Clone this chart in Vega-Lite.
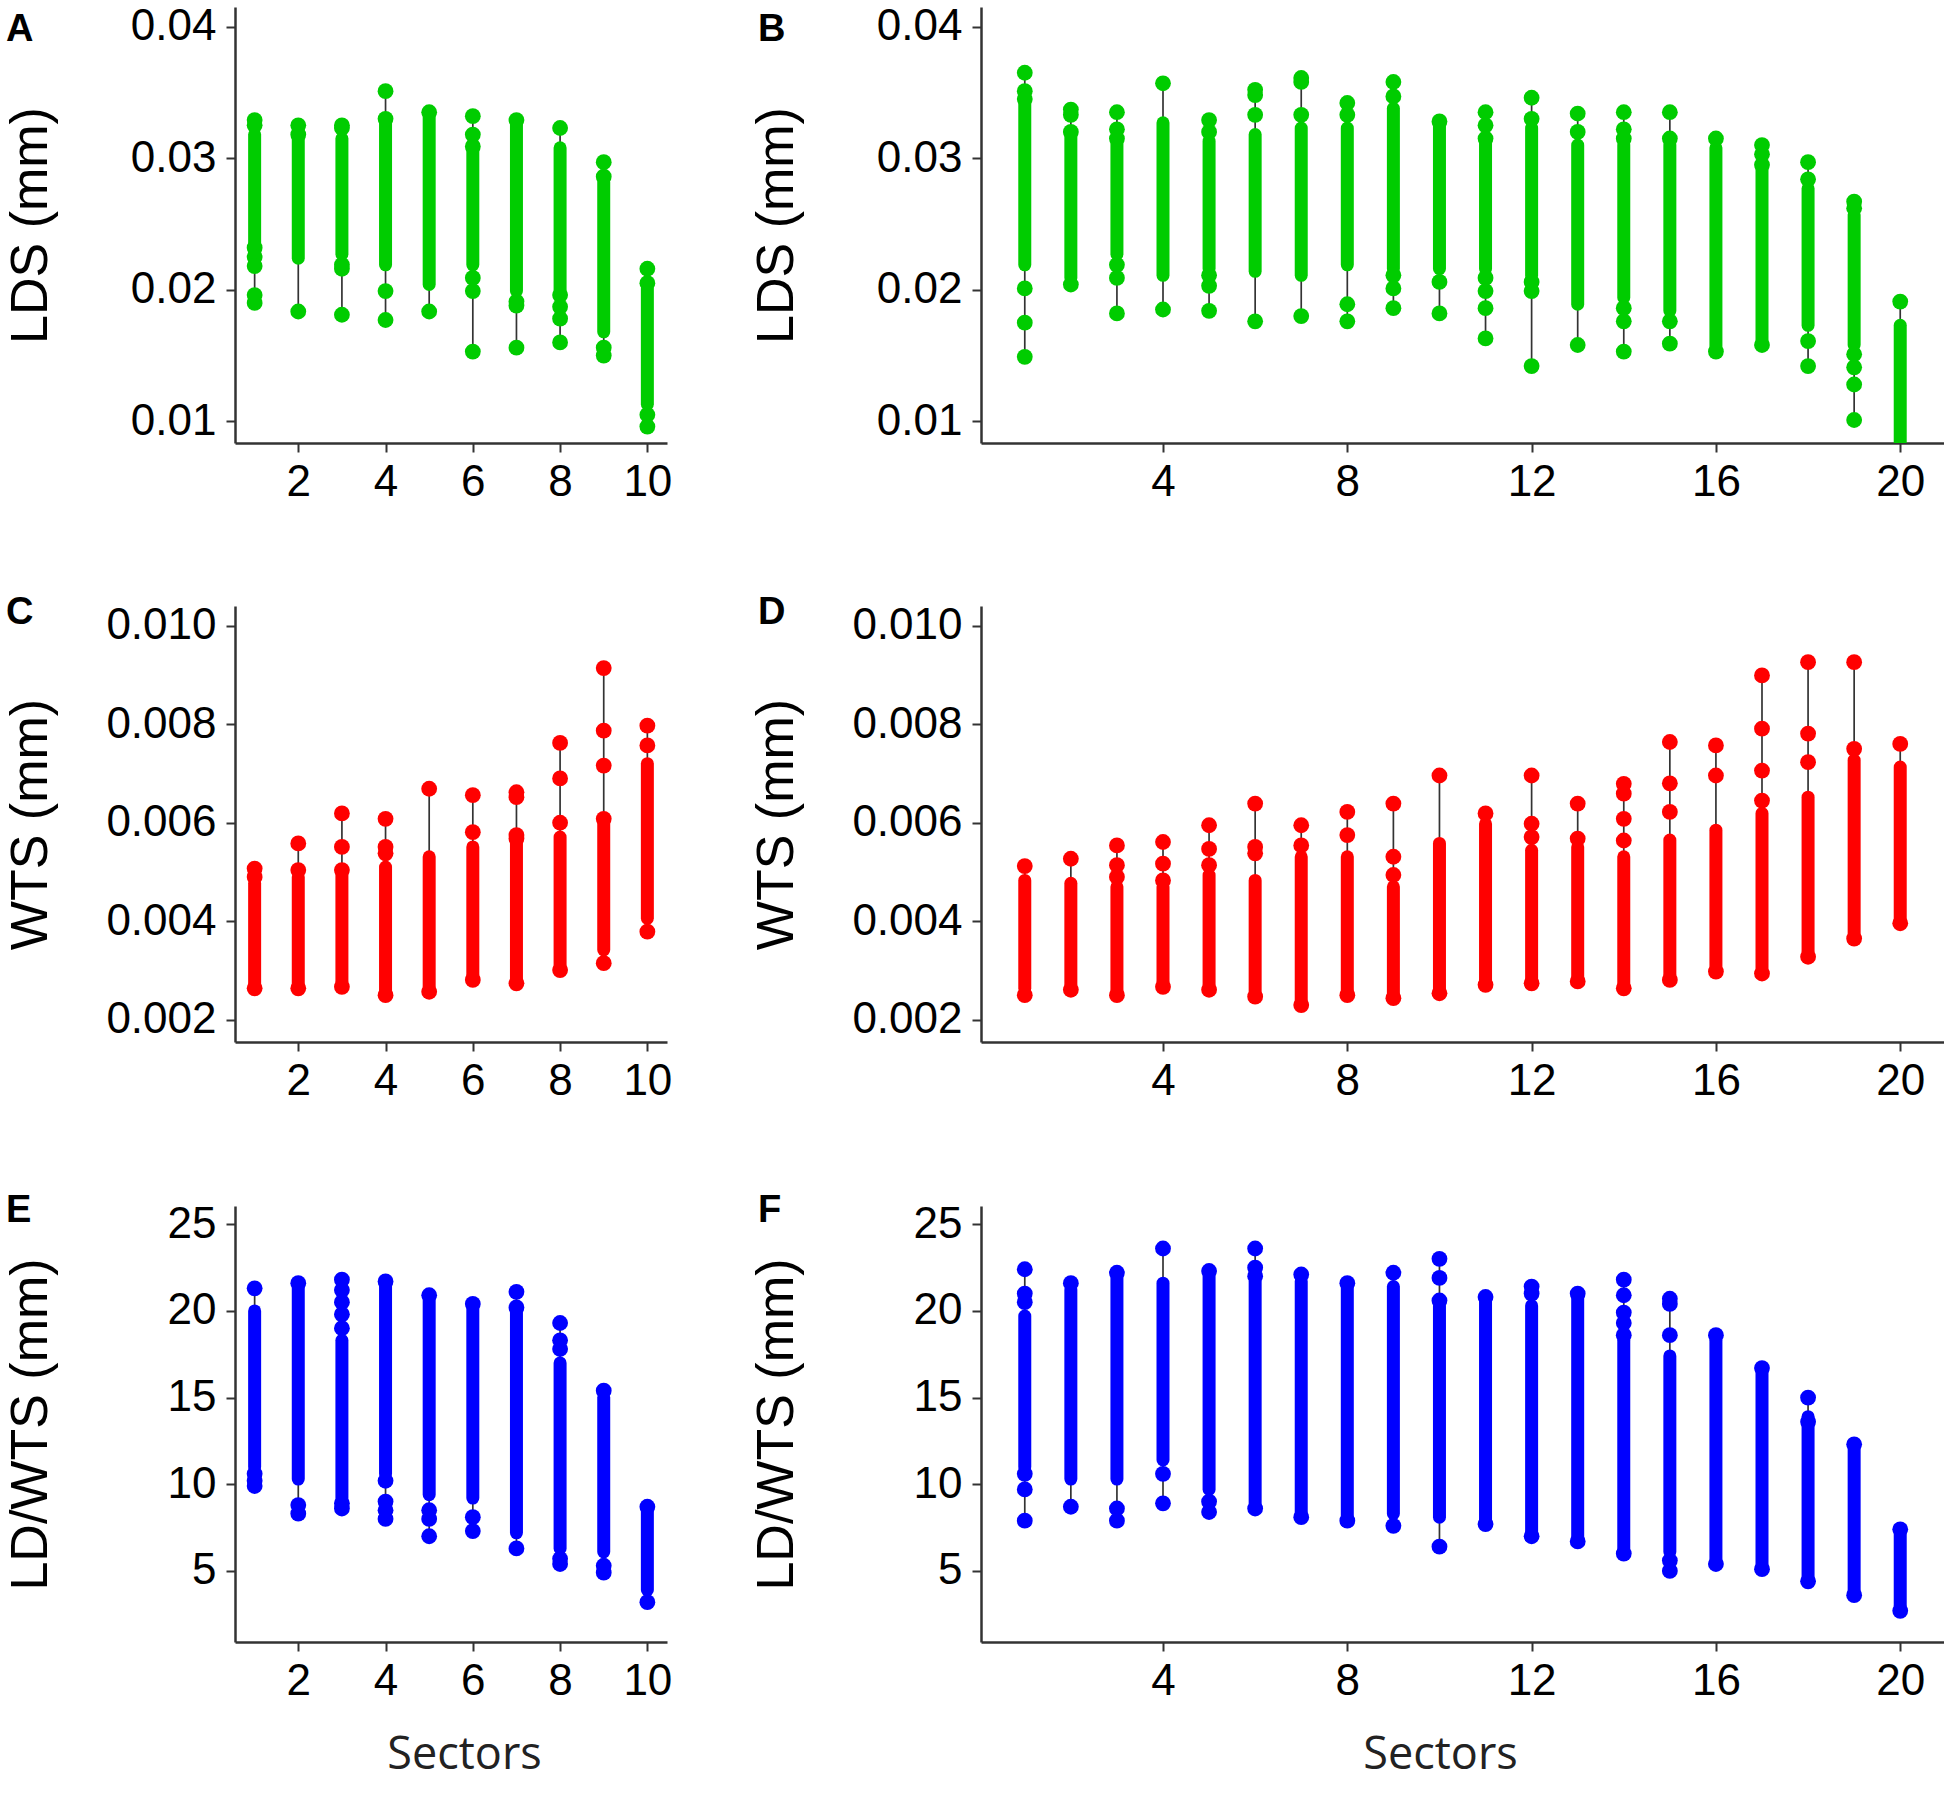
{
  "$schema": "https://vega.github.io/schema/vega-lite/v6.json",
  "background": "white",
  "padding": {"left": 4, "top": 4, "right": 0, "bottom": 0},
  "datasets": {
    "ranges": [
      {"p":"A","s":1,"lo":0.0190,"hi":0.0329,"b0":0.0222,"b1":0.0318},
      {"p":"A","s":2,"lo":0.01835,"hi":0.0325,"b0":0.0224,"b1":0.0323},
      {"p":"A","s":3,"lo":0.0181,"hi":0.0325,"b0":0.0227,"b1":0.0315},
      {"p":"A","s":4,"lo":0.0177,"hi":0.0351,"b0":0.0219,"b1":0.0330},
      {"p":"A","s":5,"lo":0.01835,"hi":0.0335,"b0":0.0204,"b1":0.0333},
      {"p":"A","s":6,"lo":0.0153,"hi":0.0332,"b0":0.0219,"b1":0.0308},
      {"p":"A","s":7,"lo":0.0156,"hi":0.0329,"b0":0.0199,"b1":0.0328},
      {"p":"A","s":8,"lo":0.0160,"hi":0.0323,"b0":0.0199,"b1":0.0308},
      {"p":"A","s":9,"lo":0.0150,"hi":0.0297,"b0":0.0168,"b1":0.0282},
      {"p":"A","s":10,"lo":0.0096,"hi":0.0216,"b0":0.0113,"b1":0.0201},
      {"p":"B","s":1,"lo":0.0149,"hi":0.0365,"b0":0.0219,"b1":0.0343},
      {"p":"B","s":2,"lo":0.0204,"hi":0.0337,"b0":0.0209,"b1":0.0318},
      {"p":"B","s":3,"lo":0.0182,"hi":0.0335,"b0":0.0227,"b1":0.0313},
      {"p":"B","s":4,"lo":0.0185,"hi":0.0357,"b0":0.0211,"b1":0.0327},
      {"p":"B","s":5,"lo":0.0184,"hi":0.0329,"b0":0.0216,"b1":0.0313},
      {"p":"B","s":6,"lo":0.0176,"hi":0.0352,"b0":0.0214,"b1":0.0318},
      {"p":"B","s":7,"lo":0.0180,"hi":0.0361,"b0":0.0211,"b1":0.0323},
      {"p":"B","s":8,"lo":0.0176,"hi":0.0342,"b0":0.0219,"b1":0.0323},
      {"p":"B","s":9,"lo":0.0186,"hi":0.0358,"b0":0.0216,"b1":0.0338},
      {"p":"B","s":10,"lo":0.0182,"hi":0.0328,"b0":0.0216,"b1":0.0328},
      {"p":"B","s":11,"lo":0.0163,"hi":0.0335,"b0":0.0216,"b1":0.0313},
      {"p":"B","s":12,"lo":0.0142,"hi":0.0346,"b0":0.0211,"b1":0.0323},
      {"p":"B","s":13,"lo":0.0158,"hi":0.0334,"b0":0.0189,"b1":0.0310},
      {"p":"B","s":14,"lo":0.0153,"hi":0.0335,"b0":0.0194,"b1":0.0310},
      {"p":"B","s":15,"lo":0.0159,"hi":0.0335,"b0":0.0184,"b1":0.0310},
      {"p":"B","s":16,"lo":0.0153,"hi":0.0315,"b0":0.0153,"b1":0.0308},
      {"p":"B","s":17,"lo":0.0158,"hi":0.0310,"b0":0.0158,"b1":0.0292},
      {"p":"B","s":18,"lo":0.0142,"hi":0.0297,"b0":0.0173,"b1":0.0277},
      {"p":"B","s":19,"lo":0.0101,"hi":0.0267,"b0":0.0158,"b1":0.0257},
      {"p":"B","s":20,"lo":0.0080,"hi":0.0191,"b0":0.0080,"b1":0.0173},
      {"p":"C","s":1,"lo":0.00264,"hi":0.00507,"b0":0.00264,"b1":0.00477},
      {"p":"C","s":2,"lo":0.00264,"hi":0.00558,"b0":0.00264,"b1":0.00490},
      {"p":"C","s":3,"lo":0.00267,"hi":0.00619,"b0":0.00267,"b1":0.00497},
      {"p":"C","s":4,"lo":0.00250,"hi":0.00608,"b0":0.00250,"b1":0.00510},
      {"p":"C","s":5,"lo":0.00257,"hi":0.00669,"b0":0.00257,"b1":0.00531},
      {"p":"C","s":6,"lo":0.00281,"hi":0.00656,"b0":0.00281,"b1":0.00551},
      {"p":"C","s":7,"lo":0.00274,"hi":0.00662,"b0":0.00274,"b1":0.00558},
      {"p":"C","s":8,"lo":0.00301,"hi":0.00762,"b0":0.00301,"b1":0.00571},
      {"p":"C","s":9,"lo":0.00315,"hi":0.00914,"b0":0.00342,"b1":0.00605},
      {"p":"C","s":10,"lo":0.00379,"hi":0.00797,"b0":0.00406,"b1":0.00720},
      {"p":"D","s":1,"lo":0.00250,"hi":0.00512,"b0":0.00264,"b1":0.00483},
      {"p":"D","s":2,"lo":0.00261,"hi":0.00527,"b0":0.00261,"b1":0.00477},
      {"p":"D","s":3,"lo":0.00250,"hi":0.00554,"b0":0.00250,"b1":0.00470},
      {"p":"D","s":4,"lo":0.00267,"hi":0.00561,"b0":0.00267,"b1":0.00470},
      {"p":"D","s":5,"lo":0.00261,"hi":0.00595,"b0":0.00261,"b1":0.00494},
      {"p":"D","s":6,"lo":0.00247,"hi":0.00639,"b0":0.00247,"b1":0.00483},
      {"p":"D","s":7,"lo":0.00230,"hi":0.00595,"b0":0.00230,"b1":0.00531},
      {"p":"D","s":8,"lo":0.00250,"hi":0.00622,"b0":0.00250,"b1":0.00531},
      {"p":"D","s":9,"lo":0.00244,"hi":0.00639,"b0":0.00244,"b1":0.00470},
      {"p":"D","s":10,"lo":0.00254,"hi":0.00696,"b0":0.00254,"b1":0.00558},
      {"p":"D","s":11,"lo":0.00271,"hi":0.00619,"b0":0.00271,"b1":0.00598},
      {"p":"D","s":12,"lo":0.00274,"hi":0.00696,"b0":0.00274,"b1":0.00544},
      {"p":"D","s":13,"lo":0.00278,"hi":0.00639,"b0":0.00278,"b1":0.00551},
      {"p":"D","s":14,"lo":0.00264,"hi":0.00679,"b0":0.00264,"b1":0.00531},
      {"p":"D","s":15,"lo":0.00281,"hi":0.00764,"b0":0.00281,"b1":0.00565},
      {"p":"D","s":16,"lo":0.00298,"hi":0.00757,"b0":0.00298,"b1":0.00585},
      {"p":"D","s":17,"lo":0.00294,"hi":0.00899,"b0":0.00294,"b1":0.00619},
      {"p":"D","s":18,"lo":0.00328,"hi":0.00926,"b0":0.00328,"b1":0.00652},
      {"p":"D","s":19,"lo":0.00365,"hi":0.00926,"b0":0.00365,"b1":0.00727},
      {"p":"D","s":20,"lo":0.00396,"hi":0.00760,"b0":0.00396,"b1":0.00713},
      {"p":"E","s":1,"lo":9.9,"hi":21.3,"b0":11.0,"b1":20.0},
      {"p":"E","s":2,"lo":8.3,"hi":21.6,"b0":10.3,"b1":21.6},
      {"p":"E","s":3,"lo":8.6,"hi":21.8,"b0":9.2,"b1":18.3},
      {"p":"E","s":4,"lo":8.0,"hi":21.7,"b0":10.6,"b1":21.7},
      {"p":"E","s":5,"lo":7.0,"hi":20.9,"b0":9.4,"b1":20.9},
      {"p":"E","s":6,"lo":7.3,"hi":20.4,"b0":9.2,"b1":20.3},
      {"p":"E","s":7,"lo":6.3,"hi":21.1,"b0":7.2,"b1":19.9},
      {"p":"E","s":8,"lo":5.4,"hi":19.3,"b0":6.3,"b1":17.0},
      {"p":"E","s":9,"lo":4.9,"hi":15.4,"b0":6.1,"b1":15.0},
      {"p":"E","s":10,"lo":3.2,"hi":8.7,"b0":3.9,"b1":8.7},
      {"p":"F","s":1,"lo":7.9,"hi":22.4,"b0":11.0,"b1":19.7},
      {"p":"F","s":2,"lo":8.7,"hi":21.6,"b0":10.3,"b1":21.2},
      {"p":"F","s":3,"lo":7.9,"hi":22.2,"b0":10.3,"b1":22.2},
      {"p":"F","s":4,"lo":8.9,"hi":23.6,"b0":11.4,"b1":21.6},
      {"p":"F","s":5,"lo":8.4,"hi":22.3,"b0":9.7,"b1":22.2},
      {"p":"F","s":6,"lo":8.6,"hi":23.6,"b0":8.6,"b1":21.7},
      {"p":"F","s":7,"lo":8.1,"hi":22.1,"b0":8.1,"b1":21.7},
      {"p":"F","s":8,"lo":7.9,"hi":21.6,"b0":7.9,"b1":21.4},
      {"p":"F","s":9,"lo":7.6,"hi":22.2,"b0":8.3,"b1":21.4},
      {"p":"F","s":10,"lo":6.4,"hi":23.0,"b0":8.1,"b1":20.3},
      {"p":"F","s":11,"lo":7.7,"hi":20.8,"b0":7.7,"b1":20.8},
      {"p":"F","s":12,"lo":7.0,"hi":21.4,"b0":7.0,"b1":20.3},
      {"p":"F","s":13,"lo":6.7,"hi":21.0,"b0":6.7,"b1":21.0},
      {"p":"F","s":14,"lo":6.0,"hi":21.8,"b0":6.0,"b1":18.3},
      {"p":"F","s":15,"lo":5.0,"hi":20.7,"b0":6.1,"b1":17.4},
      {"p":"F","s":16,"lo":5.4,"hi":18.6,"b0":5.4,"b1":18.3},
      {"p":"F","s":17,"lo":5.1,"hi":16.7,"b0":5.1,"b1":16.6},
      {"p":"F","s":18,"lo":4.4,"hi":15.0,"b0":4.4,"b1":13.9},
      {"p":"F","s":19,"lo":3.6,"hi":12.3,"b0":3.6,"b1":12.3},
      {"p":"F","s":20,"lo":2.7,"hi":7.4,"b0":2.7,"b1":7.4}
    ],
    "dots": [
      {"p":"A","s":1,"v":0.0329},{"p":"A","s":1,"v":0.0325},{"p":"A","s":1,"v":0.0232},{"p":"A","s":1,"v":0.0225},{"p":"A","s":1,"v":0.0218},{"p":"A","s":1,"v":0.0196},{"p":"A","s":1,"v":0.0190},
      {"p":"A","s":2,"v":0.0325},{"p":"A","s":2,"v":0.0318},{"p":"A","s":2,"v":0.01835},
      {"p":"A","s":3,"v":0.0325},{"p":"A","s":3,"v":0.0323},{"p":"A","s":3,"v":0.0219},{"p":"A","s":3,"v":0.0216},{"p":"A","s":3,"v":0.0181},
      {"p":"A","s":4,"v":0.0351},{"p":"A","s":4,"v":0.0330},{"p":"A","s":4,"v":0.0199},{"p":"A","s":4,"v":0.0177},
      {"p":"A","s":5,"v":0.0335},{"p":"A","s":5,"v":0.01835},
      {"p":"A","s":6,"v":0.0332},{"p":"A","s":6,"v":0.0318},{"p":"A","s":6,"v":0.0309},{"p":"A","s":6,"v":0.0209},{"p":"A","s":6,"v":0.0199},{"p":"A","s":6,"v":0.0153},
      {"p":"A","s":7,"v":0.0329},{"p":"A","s":7,"v":0.0191},{"p":"A","s":7,"v":0.0188},{"p":"A","s":7,"v":0.0156},
      {"p":"A","s":8,"v":0.0323},{"p":"A","s":8,"v":0.0196},{"p":"A","s":8,"v":0.0187},{"p":"A","s":8,"v":0.0178},{"p":"A","s":8,"v":0.0160},
      {"p":"A","s":9,"v":0.0297},{"p":"A","s":9,"v":0.0286},{"p":"A","s":9,"v":0.0156},{"p":"A","s":9,"v":0.0150},
      {"p":"A","s":10,"v":0.0216},{"p":"A","s":10,"v":0.0205},{"p":"A","s":10,"v":0.0105},{"p":"A","s":10,"v":0.0096},
      {"p":"B","s":1,"v":0.0365},{"p":"B","s":1,"v":0.0351},{"p":"B","s":1,"v":0.0345},{"p":"B","s":1,"v":0.0201},{"p":"B","s":1,"v":0.0175},{"p":"B","s":1,"v":0.0149},
      {"p":"B","s":2,"v":0.0337},{"p":"B","s":2,"v":0.0333},{"p":"B","s":2,"v":0.0320},{"p":"B","s":2,"v":0.0204},
      {"p":"B","s":3,"v":0.0335},{"p":"B","s":3,"v":0.0322},{"p":"B","s":3,"v":0.0315},{"p":"B","s":3,"v":0.0219},{"p":"B","s":3,"v":0.0209},{"p":"B","s":3,"v":0.0182},
      {"p":"B","s":4,"v":0.0357},{"p":"B","s":4,"v":0.0185},
      {"p":"B","s":5,"v":0.0329},{"p":"B","s":5,"v":0.0320},{"p":"B","s":5,"v":0.0211},{"p":"B","s":5,"v":0.0203},{"p":"B","s":5,"v":0.0184},
      {"p":"B","s":6,"v":0.0352},{"p":"B","s":6,"v":0.0348},{"p":"B","s":6,"v":0.0333},{"p":"B","s":6,"v":0.0176},
      {"p":"B","s":7,"v":0.0361},{"p":"B","s":7,"v":0.0358},{"p":"B","s":7,"v":0.0333},{"p":"B","s":7,"v":0.0180},
      {"p":"B","s":8,"v":0.0342},{"p":"B","s":8,"v":0.0333},{"p":"B","s":8,"v":0.0189},{"p":"B","s":8,"v":0.0176},
      {"p":"B","s":9,"v":0.0358},{"p":"B","s":9,"v":0.0347},{"p":"B","s":9,"v":0.0211},{"p":"B","s":9,"v":0.0201},{"p":"B","s":9,"v":0.0186},
      {"p":"B","s":10,"v":0.0328},{"p":"B","s":10,"v":0.0206},{"p":"B","s":10,"v":0.0182},
      {"p":"B","s":11,"v":0.0335},{"p":"B","s":11,"v":0.0325},{"p":"B","s":11,"v":0.0315},{"p":"B","s":11,"v":0.0209},{"p":"B","s":11,"v":0.0199},{"p":"B","s":11,"v":0.0186},{"p":"B","s":11,"v":0.0163},
      {"p":"B","s":12,"v":0.0346},{"p":"B","s":12,"v":0.0330},{"p":"B","s":12,"v":0.0206},{"p":"B","s":12,"v":0.0199},{"p":"B","s":12,"v":0.0142},
      {"p":"B","s":13,"v":0.0334},{"p":"B","s":13,"v":0.0320},{"p":"B","s":13,"v":0.0158},
      {"p":"B","s":14,"v":0.0335},{"p":"B","s":14,"v":0.0322},{"p":"B","s":14,"v":0.0315},{"p":"B","s":14,"v":0.0186},{"p":"B","s":14,"v":0.0176},{"p":"B","s":14,"v":0.0153},
      {"p":"B","s":15,"v":0.0335},{"p":"B","s":15,"v":0.0315},{"p":"B","s":15,"v":0.0176},{"p":"B","s":15,"v":0.0159},
      {"p":"B","s":16,"v":0.0315},{"p":"B","s":16,"v":0.0153},
      {"p":"B","s":17,"v":0.0310},{"p":"B","s":17,"v":0.0303},{"p":"B","s":17,"v":0.0295},{"p":"B","s":17,"v":0.0158},
      {"p":"B","s":18,"v":0.0297},{"p":"B","s":18,"v":0.0284},{"p":"B","s":18,"v":0.0161},{"p":"B","s":18,"v":0.0142},
      {"p":"B","s":19,"v":0.0267},{"p":"B","s":19,"v":0.0262},{"p":"B","s":19,"v":0.0151},{"p":"B","s":19,"v":0.0141},{"p":"B","s":19,"v":0.0128},{"p":"B","s":19,"v":0.0101},
      {"p":"B","s":20,"v":0.0191},
      {"p":"C","s":1,"v":0.00507},{"p":"C","s":1,"v":0.00490},{"p":"C","s":1,"v":0.00264},
      {"p":"C","s":2,"v":0.00558},{"p":"C","s":2,"v":0.00504},{"p":"C","s":2,"v":0.00264},
      {"p":"C","s":3,"v":0.00619},{"p":"C","s":3,"v":0.00551},{"p":"C","s":3,"v":0.00504},{"p":"C","s":3,"v":0.00267},
      {"p":"C","s":4,"v":0.00608},{"p":"C","s":4,"v":0.00551},{"p":"C","s":4,"v":0.00538},{"p":"C","s":4,"v":0.00250},
      {"p":"C","s":5,"v":0.00669},{"p":"C","s":5,"v":0.00257},
      {"p":"C","s":6,"v":0.00656},{"p":"C","s":6,"v":0.00581},{"p":"C","s":6,"v":0.00281},
      {"p":"C","s":7,"v":0.00662},{"p":"C","s":7,"v":0.00652},{"p":"C","s":7,"v":0.00575},{"p":"C","s":7,"v":0.00568},{"p":"C","s":7,"v":0.00274},
      {"p":"C","s":8,"v":0.00762},{"p":"C","s":8,"v":0.00690},{"p":"C","s":8,"v":0.00600},{"p":"C","s":8,"v":0.00301},
      {"p":"C","s":9,"v":0.00914},{"p":"C","s":9,"v":0.00787},{"p":"C","s":9,"v":0.00716},{"p":"C","s":9,"v":0.00608},{"p":"C","s":9,"v":0.00315},
      {"p":"C","s":10,"v":0.00797},{"p":"C","s":10,"v":0.00757},{"p":"C","s":10,"v":0.00379},
      {"p":"D","s":1,"v":0.00512},{"p":"D","s":1,"v":0.00250},
      {"p":"D","s":2,"v":0.00527},{"p":"D","s":2,"v":0.00261},
      {"p":"D","s":3,"v":0.00554},{"p":"D","s":3,"v":0.00514},{"p":"D","s":3,"v":0.00490},{"p":"D","s":3,"v":0.00250},
      {"p":"D","s":4,"v":0.00561},{"p":"D","s":4,"v":0.00517},{"p":"D","s":4,"v":0.00483},{"p":"D","s":4,"v":0.00267},
      {"p":"D","s":5,"v":0.00595},{"p":"D","s":5,"v":0.00547},{"p":"D","s":5,"v":0.00514},{"p":"D","s":5,"v":0.00261},
      {"p":"D","s":6,"v":0.00639},{"p":"D","s":6,"v":0.00551},{"p":"D","s":6,"v":0.00538},{"p":"D","s":6,"v":0.00247},
      {"p":"D","s":7,"v":0.00595},{"p":"D","s":7,"v":0.00554},{"p":"D","s":7,"v":0.00230},
      {"p":"D","s":8,"v":0.00622},{"p":"D","s":8,"v":0.00575},{"p":"D","s":8,"v":0.00250},
      {"p":"D","s":9,"v":0.00639},{"p":"D","s":9,"v":0.00531},{"p":"D","s":9,"v":0.00494},{"p":"D","s":9,"v":0.00244},
      {"p":"D","s":10,"v":0.00696},{"p":"D","s":10,"v":0.00254},
      {"p":"D","s":11,"v":0.00619},{"p":"D","s":11,"v":0.00271},
      {"p":"D","s":12,"v":0.00696},{"p":"D","s":12,"v":0.00598},{"p":"D","s":12,"v":0.00571},{"p":"D","s":12,"v":0.00274},
      {"p":"D","s":13,"v":0.00639},{"p":"D","s":13,"v":0.00568},{"p":"D","s":13,"v":0.00278},
      {"p":"D","s":14,"v":0.00679},{"p":"D","s":14,"v":0.00659},{"p":"D","s":14,"v":0.00608},{"p":"D","s":14,"v":0.00564},{"p":"D","s":14,"v":0.00264},
      {"p":"D","s":15,"v":0.00764},{"p":"D","s":15,"v":0.00680},{"p":"D","s":15,"v":0.00622},{"p":"D","s":15,"v":0.00281},
      {"p":"D","s":16,"v":0.00757},{"p":"D","s":16,"v":0.00696},{"p":"D","s":16,"v":0.00298},
      {"p":"D","s":17,"v":0.00899},{"p":"D","s":17,"v":0.00791},{"p":"D","s":17,"v":0.00706},{"p":"D","s":17,"v":0.00645},{"p":"D","s":17,"v":0.00294},
      {"p":"D","s":18,"v":0.00926},{"p":"D","s":18,"v":0.00781},{"p":"D","s":18,"v":0.00723},{"p":"D","s":18,"v":0.00328},
      {"p":"D","s":19,"v":0.00926},{"p":"D","s":19,"v":0.00750},{"p":"D","s":19,"v":0.00365},
      {"p":"D","s":20,"v":0.00760},{"p":"D","s":20,"v":0.00396},
      {"p":"E","s":1,"v":21.3},{"p":"E","s":1,"v":10.6},{"p":"E","s":1,"v":10.2},{"p":"E","s":1,"v":9.9},
      {"p":"E","s":2,"v":21.6},{"p":"E","s":2,"v":8.8},{"p":"E","s":2,"v":8.3},
      {"p":"E","s":3,"v":21.8},{"p":"E","s":3,"v":21.2},{"p":"E","s":3,"v":20.5},{"p":"E","s":3,"v":19.8},{"p":"E","s":3,"v":19.0},{"p":"E","s":3,"v":8.9},{"p":"E","s":3,"v":8.6},
      {"p":"E","s":4,"v":21.7},{"p":"E","s":4,"v":10.2},{"p":"E","s":4,"v":9.0},{"p":"E","s":4,"v":8.5},{"p":"E","s":4,"v":8.0},
      {"p":"E","s":5,"v":20.9},{"p":"E","s":5,"v":8.5},{"p":"E","s":5,"v":8.0},{"p":"E","s":5,"v":7.0},
      {"p":"E","s":6,"v":20.4},{"p":"E","s":6,"v":8.1},{"p":"E","s":6,"v":7.3},
      {"p":"E","s":7,"v":21.1},{"p":"E","s":7,"v":20.2},{"p":"E","s":7,"v":6.3},
      {"p":"E","s":8,"v":19.3},{"p":"E","s":8,"v":18.3},{"p":"E","s":8,"v":17.8},{"p":"E","s":8,"v":5.7},{"p":"E","s":8,"v":5.4},
      {"p":"E","s":9,"v":15.4},{"p":"E","s":9,"v":5.3},{"p":"E","s":9,"v":4.9},
      {"p":"E","s":10,"v":8.7},{"p":"E","s":10,"v":3.2},
      {"p":"F","s":1,"v":22.4},{"p":"F","s":1,"v":21.0},{"p":"F","s":1,"v":20.5},{"p":"F","s":1,"v":10.6},{"p":"F","s":1,"v":9.7},{"p":"F","s":1,"v":7.9},
      {"p":"F","s":2,"v":21.6},{"p":"F","s":2,"v":8.7},
      {"p":"F","s":3,"v":22.2},{"p":"F","s":3,"v":8.6},{"p":"F","s":3,"v":7.9},
      {"p":"F","s":4,"v":23.6},{"p":"F","s":4,"v":10.6},{"p":"F","s":4,"v":8.9},
      {"p":"F","s":5,"v":22.3},{"p":"F","s":5,"v":9.0},{"p":"F","s":5,"v":8.4},
      {"p":"F","s":6,"v":23.6},{"p":"F","s":6,"v":22.5},{"p":"F","s":6,"v":22.0},{"p":"F","s":6,"v":8.6},
      {"p":"F","s":7,"v":22.1},{"p":"F","s":7,"v":8.1},
      {"p":"F","s":8,"v":21.6},{"p":"F","s":8,"v":7.9},
      {"p":"F","s":9,"v":22.2},{"p":"F","s":9,"v":7.6},
      {"p":"F","s":10,"v":23.0},{"p":"F","s":10,"v":21.9},{"p":"F","s":10,"v":20.6},{"p":"F","s":10,"v":6.4},
      {"p":"F","s":11,"v":20.8},{"p":"F","s":11,"v":7.7},
      {"p":"F","s":12,"v":21.4},{"p":"F","s":12,"v":21.0},{"p":"F","s":12,"v":7.0},
      {"p":"F","s":13,"v":21.0},{"p":"F","s":13,"v":6.7},
      {"p":"F","s":14,"v":21.8},{"p":"F","s":14,"v":20.9},{"p":"F","s":14,"v":19.9},{"p":"F","s":14,"v":19.3},{"p":"F","s":14,"v":18.6},{"p":"F","s":14,"v":6.0},
      {"p":"F","s":15,"v":20.7},{"p":"F","s":15,"v":20.4},{"p":"F","s":15,"v":18.6},{"p":"F","s":15,"v":5.6},{"p":"F","s":15,"v":5.0},
      {"p":"F","s":16,"v":18.6},{"p":"F","s":16,"v":5.4},
      {"p":"F","s":17,"v":16.7},{"p":"F","s":17,"v":5.1},
      {"p":"F","s":18,"v":15.0},{"p":"F","s":18,"v":13.6},{"p":"F","s":18,"v":4.4},
      {"p":"F","s":19,"v":12.3},{"p":"F","s":19,"v":3.6},
      {"p":"F","s":20,"v":7.4},{"p":"F","s":20,"v":2.7}
    ]
  },
  "vconcat": [
    {
      "hconcat": [
        {
          "width": 432, "height": 436,
          "title": {"text": "A", "offset": -44, "dx": 2},
          "layer": [
            {"data": {"name": "ranges"}, "transform": [{"filter": "datum.p === 'A'"}],
             "mark": {"type": "rule", "color": "#333333", "strokeWidth": 1.7, "clip": true},
             "encoding": {
               "x": {"field": "s", "type": "quantitative", "scale": {"domain": [0.55, 10.45], "nice": false, "zero": false}, "axis": {"values": [2, 4, 6, 8, 10], "title": null}},
               "y": {"field": "lo", "type": "quantitative", "scale": {"domain": [0.00835, 0.0415], "nice": false, "zero": false}, "axis": {"values": [0.01, 0.02, 0.03, 0.04], "format": ".2f", "title": "LDS (mm)"}},
               "y2": {"field": "hi"}}},
            {"data": {"name": "ranges"}, "transform": [{"filter": "datum.p === 'A'"}],
             "mark": {"type": "rule", "color": "#00cc00", "strokeWidth": 13, "strokeCap": "round", "clip": true},
             "encoding": {"x": {"field": "s", "type": "quantitative"}, "y": {"field": "b0", "type": "quantitative"}, "y2": {"field": "b1"}}},
            {"data": {"name": "dots"}, "transform": [{"filter": "datum.p === 'A'"}],
             "mark": {"type": "circle", "color": "#00cc00", "size": 250, "opacity": 1, "clip": true},
             "encoding": {"x": {"field": "s", "type": "quantitative"}, "y": {"field": "v", "type": "quantitative"}}}
          ]
        },
        {
          "width": 963, "height": 436,
          "title": {"text": "B", "offset": -44, "dx": 8},
          "layer": [
            {"data": {"name": "ranges"}, "transform": [{"filter": "datum.p === 'B'"}],
             "mark": {"type": "rule", "color": "#333333", "strokeWidth": 1.7, "clip": true},
             "encoding": {
               "x": {"field": "s", "type": "quantitative", "scale": {"domain": [0.05, 20.95], "nice": false, "zero": false}, "axis": {"values": [4, 8, 12, 16, 20], "title": null}},
               "y": {"field": "lo", "type": "quantitative", "scale": {"domain": [0.00835, 0.0415], "nice": false, "zero": false}, "axis": {"values": [0.01, 0.02, 0.03, 0.04], "format": ".2f", "title": "LDS (mm)"}},
               "y2": {"field": "hi"}}},
            {"data": {"name": "ranges"}, "transform": [{"filter": "datum.p === 'B'"}],
             "mark": {"type": "rule", "color": "#00cc00", "strokeWidth": 13, "strokeCap": "round", "clip": true},
             "encoding": {"x": {"field": "s", "type": "quantitative"}, "y": {"field": "b0", "type": "quantitative"}, "y2": {"field": "b1"}}},
            {"data": {"name": "dots"}, "transform": [{"filter": "datum.p === 'B'"}],
             "mark": {"type": "circle", "color": "#00cc00", "size": 250, "opacity": 1, "clip": true},
             "encoding": {"x": {"field": "s", "type": "quantitative"}, "y": {"field": "v", "type": "quantitative"}}}
          ]
        }
      ]
    },
    {
      "hconcat": [
        {
          "width": 432, "height": 436,
          "title": {"text": "C", "offset": -28, "dx": 2},
          "layer": [
            {"data": {"name": "ranges"}, "transform": [{"filter": "datum.p === 'C'"}],
             "mark": {"type": "rule", "color": "#333333", "strokeWidth": 1.7, "clip": true},
             "encoding": {
               "x": {"field": "s", "type": "quantitative", "scale": {"domain": [0.55, 10.45], "nice": false, "zero": false}, "axis": {"values": [2, 4, 6, 8, 10], "title": null}},
               "y": {"field": "lo", "type": "quantitative", "scale": {"domain": [0.00155, 0.0104], "nice": false, "zero": false}, "axis": {"values": [0.002, 0.004, 0.006, 0.008, 0.010], "format": ".3f", "title": "WTS (mm)"}},
               "y2": {"field": "hi"}}},
            {"data": {"name": "ranges"}, "transform": [{"filter": "datum.p === 'C'"}],
             "mark": {"type": "rule", "color": "#ff0000", "strokeWidth": 13, "strokeCap": "round", "clip": true},
             "encoding": {"x": {"field": "s", "type": "quantitative"}, "y": {"field": "b0", "type": "quantitative"}, "y2": {"field": "b1"}}},
            {"data": {"name": "dots"}, "transform": [{"filter": "datum.p === 'C'"}],
             "mark": {"type": "circle", "color": "#ff0000", "size": 250, "opacity": 1, "clip": true},
             "encoding": {"x": {"field": "s", "type": "quantitative"}, "y": {"field": "v", "type": "quantitative"}}}
          ]
        },
        {
          "width": 963, "height": 436,
          "title": {"text": "D", "offset": -28, "dx": 8},
          "layer": [
            {"data": {"name": "ranges"}, "transform": [{"filter": "datum.p === 'D'"}],
             "mark": {"type": "rule", "color": "#333333", "strokeWidth": 1.7, "clip": true},
             "encoding": {
               "x": {"field": "s", "type": "quantitative", "scale": {"domain": [0.05, 20.95], "nice": false, "zero": false}, "axis": {"values": [4, 8, 12, 16, 20], "title": null}},
               "y": {"field": "lo", "type": "quantitative", "scale": {"domain": [0.00155, 0.0104], "nice": false, "zero": false}, "axis": {"values": [0.002, 0.004, 0.006, 0.008, 0.010], "format": ".3f", "title": "WTS (mm)"}},
               "y2": {"field": "hi"}}},
            {"data": {"name": "ranges"}, "transform": [{"filter": "datum.p === 'D'"}],
             "mark": {"type": "rule", "color": "#ff0000", "strokeWidth": 13, "strokeCap": "round", "clip": true},
             "encoding": {"x": {"field": "s", "type": "quantitative"}, "y": {"field": "b0", "type": "quantitative"}, "y2": {"field": "b1"}}},
            {"data": {"name": "dots"}, "transform": [{"filter": "datum.p === 'D'"}],
             "mark": {"type": "circle", "color": "#ff0000", "size": 250, "opacity": 1, "clip": true},
             "encoding": {"x": {"field": "s", "type": "quantitative"}, "y": {"field": "v", "type": "quantitative"}}}
          ]
        }
      ]
    },
    {
      "hconcat": [
        {
          "width": 432, "height": 436,
          "title": {"text": "E", "offset": -28, "dx": 2},
          "layer": [
            {"data": {"name": "ranges"}, "transform": [{"filter": "datum.p === 'E'"}],
             "mark": {"type": "rule", "color": "#333333", "strokeWidth": 1.7, "clip": true},
             "encoding": {
               "x": {"field": "s", "type": "quantitative", "scale": {"domain": [0.55, 10.45], "nice": false, "zero": false}, "axis": {"values": [2, 4, 6, 8, 10], "title": "Sectors", "titleX": 229}},
               "y": {"field": "lo", "type": "quantitative", "scale": {"domain": [0.9, 26.05], "nice": false, "zero": false}, "axis": {"values": [5, 10, 15, 20, 25], "format": "d", "title": "LD/WTS (mm)"}},
               "y2": {"field": "hi"}}},
            {"data": {"name": "ranges"}, "transform": [{"filter": "datum.p === 'E'"}],
             "mark": {"type": "rule", "color": "#0000ff", "strokeWidth": 13, "strokeCap": "round", "clip": true},
             "encoding": {"x": {"field": "s", "type": "quantitative"}, "y": {"field": "b0", "type": "quantitative"}, "y2": {"field": "b1"}}},
            {"data": {"name": "dots"}, "transform": [{"filter": "datum.p === 'E'"}],
             "mark": {"type": "circle", "color": "#0000ff", "size": 250, "opacity": 1, "clip": true},
             "encoding": {"x": {"field": "s", "type": "quantitative"}, "y": {"field": "v", "type": "quantitative"}}}
          ]
        },
        {
          "width": 963, "height": 436,
          "title": {"text": "F", "offset": -28, "dx": 8},
          "layer": [
            {"data": {"name": "ranges"}, "transform": [{"filter": "datum.p === 'F'"}],
             "mark": {"type": "rule", "color": "#333333", "strokeWidth": 1.7, "clip": true},
             "encoding": {
               "x": {"field": "s", "type": "quantitative", "scale": {"domain": [0.05, 20.95], "nice": false, "zero": false}, "axis": {"values": [4, 8, 12, 16, 20], "title": "Sectors", "titleX": 459}},
               "y": {"field": "lo", "type": "quantitative", "scale": {"domain": [0.9, 26.05], "nice": false, "zero": false}, "axis": {"values": [5, 10, 15, 20, 25], "format": "d", "title": "LD/WTS (mm)"}},
               "y2": {"field": "hi"}}},
            {"data": {"name": "ranges"}, "transform": [{"filter": "datum.p === 'F'"}],
             "mark": {"type": "rule", "color": "#0000ff", "strokeWidth": 13, "strokeCap": "round", "clip": true},
             "encoding": {"x": {"field": "s", "type": "quantitative"}, "y": {"field": "b0", "type": "quantitative"}, "y2": {"field": "b1"}}},
            {"data": {"name": "dots"}, "transform": [{"filter": "datum.p === 'F'"}],
             "mark": {"type": "circle", "color": "#0000ff", "size": 250, "opacity": 1, "clip": true},
             "encoding": {"x": {"field": "s", "type": "quantitative"}, "y": {"field": "v", "type": "quantitative"}}}
          ]
        }
      ]
    }
  ],
  "spacing": 89,
  "config": {
    "view": {"stroke": null},
    "concat": {"spacing": 78},
    "title": {"anchor": "start", "frame": "bounds", "font": "Liberation Sans", "fontWeight": "bold", "fontSize": 38, "color": "#000000", "baseline": "top"},
    "axis": {
      "grid": false,
      "domainColor": "#333333", "domainWidth": 2.5,
      "tickColor": "#333333", "tickWidth": 2, "tickSize": 9,
      "labelFont": "Liberation Sans", "labelFontSize": 44, "labelColor": "#000000",
      "titleFont": "Liberation Sans", "titleFontSize": 52, "titleFontWeight": "normal", "titleColor": "#000000"
    },
    "axisY": {"minExtent": 150, "maxExtent": 150, "titlePadding": 28, "labelPadding": 10},
    "axisX": {"labelPadding": 8, "titleFont": "Open Sans", "titleFontSize": 45, "titlePadding": 29, "titleColor": "#222222"}
  }
}
